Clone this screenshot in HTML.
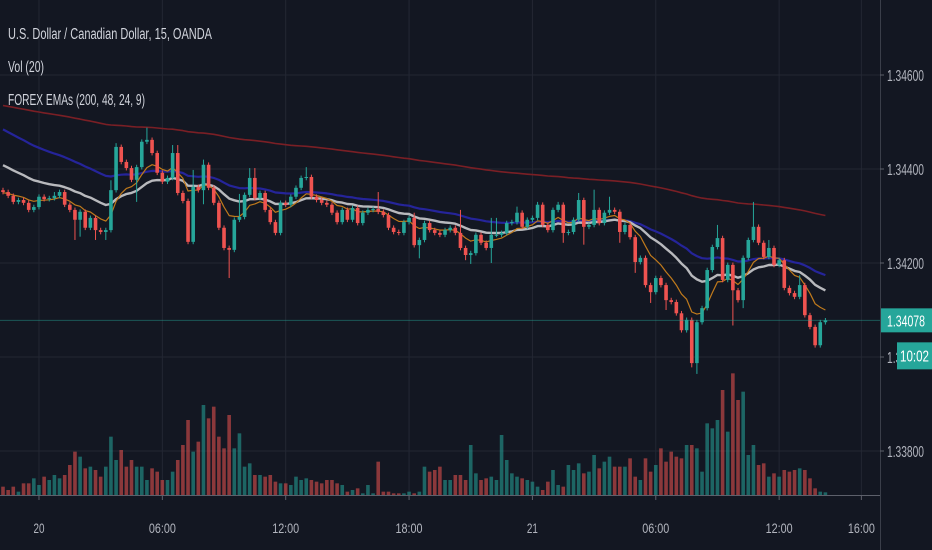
<!DOCTYPE html>
<html><head><meta charset="utf-8"><style>
html,body{margin:0;padding:0;background:#131722;}
svg{display:block;font-family:"Liberation Sans",sans-serif;}
</style></head><body>
<svg id="chart" width="932" height="550" viewBox="0 0 932 550" xmlns="http://www.w3.org/2000/svg">
<rect x="0" y="0" width="932" height="550" fill="#131722"/>
<g id="grid"></g>
<g id="vol"></g>
<g id="emas"></g>
<g id="candles"></g>
<g id="axes"></g>
<g fill="#d1d4dc" font-size="15.5">
<text x="8" y="39" textLength="204" lengthAdjust="spacingAndGlyphs">U.S. Dollar / Canadian Dollar, 15, OANDA</text>
<text x="8" y="72" textLength="36" lengthAdjust="spacingAndGlyphs">Vol (20)</text>
<text x="8" y="105" textLength="137" lengthAdjust="spacingAndGlyphs">FOREX EMAs (200, 48, 24, 9)</text>
</g>
</svg>
<script>
const closes = [1.34351,1.34343,1.34330,1.34334,1.34328,1.34313,1.34319,1.34341,1.34336,1.34338,1.34343,1.34351,1.34324,1.34313,1.34292,1.34309,1.34275,1.34296,1.34270,1.34266,1.34270,1.34355,1.34447,1.34415,1.34402,1.34377,1.34404,1.34458,1.34462,1.34434,1.34392,1.34373,1.34381,1.34434,1.34349,1.34332,1.34245,1.34362,1.34355,1.34409,1.34360,
1.34328,1.34275,1.34232,1.34228,1.34292,1.34298,1.34345,1.34381,1.34338,1.34349,1.34313,1.34287,1.34264,1.34328,1.34324,1.34341,1.34360,1.34381,1.34383,1.34341,1.34334,1.34328,1.34324,1.34307,1.34287,1.34313,1.34292,1.34317,1.34285,1.34307,1.34313,1.34315,1.34309,1.34302,1.34275,1.34266,1.34264,1.34287,1.34296,
1.34238,1.34249,1.34285,1.34270,1.34264,1.34260,1.34270,1.34275,1.34264,1.34232,1.34217,1.34221,1.34260,1.34243,1.34232,1.34260,1.34260,1.34264,1.34285,1.34287,1.34307,1.34277,1.34292,1.34296,1.34324,1.34281,1.34270,1.34313,1.34324,1.34264,1.34266,1.34292,1.34334,1.34277,1.34281,1.34313,1.34285,
1.34307,1.34313,1.34309,1.34266,1.34281,1.34255,1.34202,1.34211,1.34153,1.34138,1.34168,1.34153,1.34121,1.34117,1.34093,1.34057,1.34079,1.33987,1.34074,1.34104,1.34185,1.34234,1.34253,1.34164,1.34196,1.34142,1.34121,1.34211,1.34249,1.34277,1.34243,1.34213,1.34232,1.34196,1.34206,1.34147,1.34136,1.34128,1.34153,1.34089,1.34064,1.34025,1.34074,1.34078];
const firstOpen = 1.34355;
const wickUp = [5,5,5,5,5,5,5,5,5,5, 8,5,5,5,5,5,5,5,5,5, 5,21,8,5,5,5,5,5,26,5, 5,5,5,17,17,5,5,36,5,11, 5,5,5,5,5,5,49,5,21,21, 5,5,5,5,5,5,5,5,5,21, 5,5,5,5,5,5,5,5,5,5, 5,5,5,36,5,5,5,5,5,5, 11,5,5,5,5,5,5,5,5,49, 5,5,5,5,5,36,36,5,5,5, 13,5,5,5,6,5,5,5,6,5, 5,5,15,5,5,43,5,5,28,5, 5,5,5,5,5,5,5,5,5,5, 5,5,5,5,5,5,5,5,5,28, 5,5,5,5,5,5,53,5,5,17, 5,5,5,5,5,21,5,5,5,5, 5];
const wickDn = [5,5,5,5,5,5,5,5,5,5, 5,5,5,5,43,36,5,5,21,5, 17,5,5,5,5,5,47,5,5,5, 5,5,5,5,5,5,5,5,5,30, 5,5,5,5,60,5,5,5,5,5, 5,5,5,5,5,5,5,5,5,5, 5,5,5,5,5,5,5,5,5,5, 5,5,5,5,5,5,5,5,5,5, 5,28,5,5,5,5,5,5,5,5, 11,19,5,5,5,32,5,5,5,5, 5,5,5,5,5,5,5,5,5,21, 5,5,5,38,5,5,5,5,5,5, 23,5,5,23,5,5,23,5,5,21, 5,5,5,5,9,23,5,5,5,5, 5,5,75,5,17,5,5,5,5,5, 5,5,5,5,5,5,5,5,5,5, 5];
const volumes = [25,15,25,10,35,35,50,30,55,45, 60,50,60,90,130,115,80,85,75,55, 85,175,105,135,85,105,85,85,45,80, 70,45,45,70,105,150,225,130,160,270, 230,265,175,140,240,140,185,85,95,60, 60,55,60,40,35,35,30,55,45,50, 45,40,35,45,45,35,30,10,15,20, 5,30,5,100,10,10,5,5,5,10,5,10,85, 70,75,85,45,45,60,60,45,150,65, 45,50,55,45,180,105,65,55,50,45, 40,25,15,40,75,30,25,90,75,95, 65,70,120,80,100,115,85,85,85,110, 55,45,110,70,90,140,100,130,115,110, 150,150,140,70,215,200,225,315,190,365, 285,310,120,150,90,95,55,65,55,75, 70,75,80,75,50,20,10,8];
const emaPeriods = [200,48,24,9];
const emaSeeds = [1.34537,1.34490,1.34413,1.34349];
const priceTicks = [1.346,1.344,1.342,1.340,1.338];
const priceTickLabels = ["1.34600","1.34400","1.34200","1.34000","1.33800"];
const timeTickBars = [7,31,55,79,103,127,151,167];
const timeTickLabels = ["20","06:00","12:00","18:00","21","06:00","12:00","16:00"];
const lastPriceLabel = "1.34078";
const countdownLabel = "10:02";

const NS="http://www.w3.org/2000/svg";
const BULL="#26a69a", BEAR="#ef5350";
function xOf(i){return 3+i*5.14;}
function yOf(p){return 263-(p-1.342)*47000;}
function yVol(v){return 495-v/3;}
function mk(tag,attrs,parent){const e=document.createElementNS(NS,tag);for(const k in attrs)e.setAttribute(k,attrs[k]);parent.appendChild(e);return e;}

const gGrid=document.getElementById('grid');
priceTicks.forEach((p,k)=>{
  const l=mk('line',{x1:0,x2:880,y1:yOf(p),y2:yOf(p),stroke:'#232733','stroke-width':1},gGrid);
  
  
});
timeTickBars.forEach((b,k)=>{
  const l=mk('line',{x1:xOf(b),x2:xOf(b),y1:0,y2:495,stroke:'#232733','stroke-width':1},gGrid);
  
  
});

const opens=closes.map((c,i)=>i===0?firstOpen:closes[i-1]);

const gVol=document.getElementById('vol');
volumes.forEach((v,i)=>{
  if(i>=closes.length)return;
  const up=closes[i]>=opens[i];
  const y=yVol(v);
  const r=mk('rect',{x:xOf(i)-1.8,y:y,width:3.6,height:495-y,fill:up?'rgba(38,166,154,0.55)':'rgba(239,83,80,0.55)'},gVol);
  
  
});

const gE=document.getElementById('emas');
const emaColors=['#7a1f25','#25249a','#b8b9bd','#c07a1c'];
const emaWidths=[1.6,2.2,2.4,1.2];
const emaNames=['ema-200-line','ema-48-line','ema-24-line','ema-9-line'];
emaPeriods.forEach((n,k)=>{
  const a=2/(n+1);let e=emaSeeds[k];const pts=[];
  closes.forEach((c,i)=>{e=e+a*(c-e);pts.push(xOf(i).toFixed(1)+','+yOf(e).toFixed(1));});
  const pl=mk('polyline',{points:pts.join(' '),fill:'none',stroke:emaColors[k],'stroke-width':emaWidths[k],'stroke-linejoin':'round'},gE);
  
  
});

const gC=document.getElementById('candles');
closes.forEach((c,i)=>{
  const o=opens[i];const up=c>=o;const col=up?BULL:BEAR;
  const top=Math.max(o,c)+wickUp[i]/100000, bot=Math.min(o,c)-wickDn[i]/100000;
  const x=xOf(i);
  const w=mk('line',{x1:x,x2:x,y1:yOf(top),y2:yOf(bot),stroke:col,'stroke-width':1},gC);
  
  
  const y1=yOf(Math.max(o,c)),y2=yOf(Math.min(o,c));
  const b=mk('rect',{x:x-1.8,y:y1,width:3.6,height:Math.max(1,y2-y1),fill:col},gC);
  
  
});

const gA=document.getElementById('axes');
const last=closes[closes.length-1];
const pl=mk('line',{x1:0,x2:880,y1:yOf(last),y2:yOf(last),stroke:'rgba(38,166,154,0.45)','stroke-width':1},gA);


const pax=mk('line',{x1:880.5,x2:880.5,y1:0,y2:550,stroke:'#3a3e49','stroke-width':1},gA);


const tax=mk('line',{x1:0,x2:880,y1:495.5,y2:495.5,stroke:'#5d606b','stroke-width':1},gA);


priceTicks.forEach((p,k)=>{
  const t=mk('line',{x1:880,x2:884,y1:yOf(p),y2:yOf(p),stroke:'#5d606b'},gA);
  
  
  const tx=mk('text',{x:887,y:yOf(p)+6,fill:'#b2b5be','font-size':15.5,textLength:37,lengthAdjust:'spacingAndGlyphs'},gA);
  tx.textContent=priceTickLabels[k];
  
  
});
timeTickBars.forEach((b,k)=>{
  const t=mk('line',{x1:xOf(b),x2:xOf(b),y1:496,y2:500,stroke:'#5d606b'},gA);
  
  
  const lab=timeTickLabels[k];
  const tx=mk('text',{x:xOf(b),y:533,fill:'#b2b5be','font-size':14,'text-anchor':'middle',textLength:lab.length>2?27:11,lengthAdjust:'spacingAndGlyphs'},gA);
  tx.textContent=lab;
  
  
});
const ly=yOf(last);
const lb=mk('rect',{x:881,y:ly-12,width:51,height:24,fill:BULL},gA);


const lt=mk('text',{x:887,y:ly+6,fill:'#ffffff','font-size':15.5,textLength:38,lengthAdjust:'spacingAndGlyphs'},gA);
lt.textContent=lastPriceLabel;


const cb=mk('rect',{x:897,y:ly+22,width:35,height:27,fill:BULL},gA);


const ct=mk('text',{x:900,y:ly+41,fill:'#ffffff','font-size':15.5,textLength:29,lengthAdjust:'spacingAndGlyphs'},gA);
ct.textContent=countdownLabel;


</script>
</body></html>
